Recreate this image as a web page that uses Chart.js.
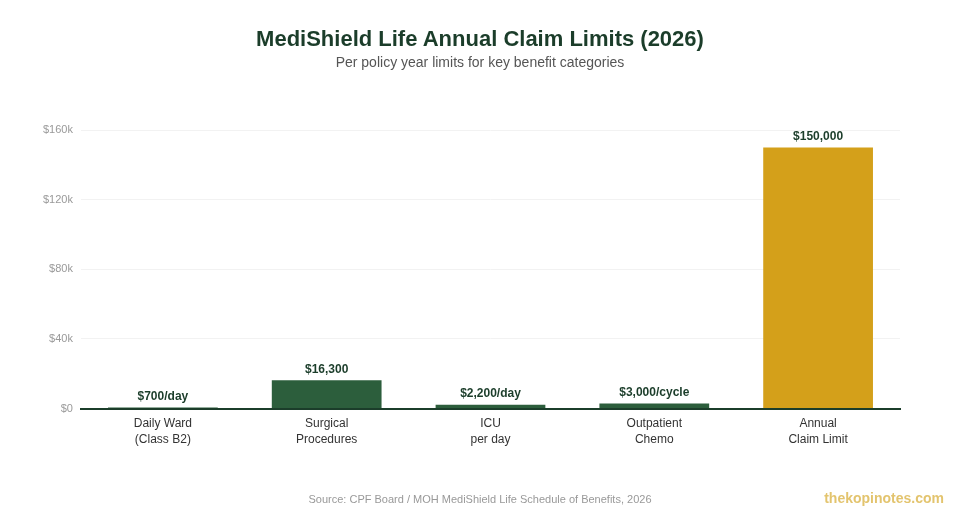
<!DOCTYPE html>
<html>
<head>
<meta charset="utf-8">
<script src="https://cdn.jsdelivr.net/npm/chart.js@4/dist/chart.umd.min.js"></script>
<style>
  html, body { margin: 0; padding: 0; background: #fff; }
  #wrap { position: relative; width: 960px; height: 520px; font-family: "Liberation Sans", Arial, sans-serif; }
  #titulo { position: absolute; left: 0; width: 960px; top: 26px; text-align: center; font-size: 22px; font-weight: bold; color: #1b3d2a; }
  #subtitulo { position: absolute; left: 0; width: 960px; top: 54px; text-align: center; font-size: 14px; color: #555; }
  #fuente { position: absolute; left: 0; width: 960px; top: 493px; text-align: center; font-size: 11px; color: #999; }
  #marca { position: absolute; right: 16px; top: 490px; font-size: 14px; font-weight: bold; color: #e3c46e; }
</style>
</head>
<body>
<div id="wrap">
  <canvas id="grafico" width="960" height="520"></canvas>
  <div id="titulo">MediShield Life Annual Claim Limits (2026)</div>
  <div id="subtitulo">Per policy year limits for key benefit categories</div>
  <div id="fuente">Source: CPF Board / MOH MediShield Life Schedule of Benefits, 2026</div>
  <div id="marca">thekopinotes.com</div>
</div>
<script>
// ─── Datos ───────────────────────────────────────
const categorias = [
  ['Daily Ward', '(Class B2)'],
  ['Surgical', 'Procedures'],
  ['ICU', 'per day'],
  ['Outpatient', 'Chemo'],
  ['Annual', 'Claim Limit']
];
const limites   = [700, 16300, 2200, 3000, 150000];
const etiquetas = ['$700/day', '$16,300', '$2,200/day', '$3,000/cycle', '$150,000'];
const ticksY    = [0, 40000, 80000, 120000, 160000];

// ─── Colores ─────────────────────────────────────
const verde      = '#2c5e3c';
const verdeOsc   = '#1b3d2a';
const dorado     = '#d4a01a';
const colores    = limites.map((v, i) => i === limites.length - 1 ? dorado : verde);

// ─── Plugin etiquetas sobre barras ───────────────
const etiquetasBarras = {
  id: 'etiquetasBarras',
  afterDatasetsDraw(chart) {
    const c = chart.ctx;
    const meta = chart.getDatasetMeta(0);
    c.save();
    c.font = 'bold 12px "Liberation Sans", Arial, sans-serif';
    c.fillStyle = verdeOsc;
    c.textAlign = 'center';
    c.textBaseline = 'bottom';
    meta.data.forEach((bar, i) => {
      c.fillText(etiquetas[i], bar.x, bar.y - 5);
    });
    c.restore();
  }
};

// ─── Gráfico ─────────────────────────────────────
const ctx = document.getElementById('grafico').getContext('2d');
new Chart(ctx, {
  type: 'bar',
  data: {
    labels: categorias,
    datasets: [{
      data: limites,
      backgroundColor: colores,
      borderWidth: 0,
      barPercentage: 0.67,
      categoryPercentage: 1
    }]
  },
  options: {
    responsive: false,
    animation: false,
    layout: { padding: { top: 130, right: 60, left: 35, bottom: 73 } },
    plugins: {
      legend: { display: false },
      tooltip: { enabled: false }
    },
    scales: {
      x: {
        grid: { display: false },
        border: { color: verdeOsc, width: 2 },
        ticks: {
          color: '#333',
          padding: -1,
          font: { family: '"Liberation Sans", Arial, sans-serif', size: 12, lineHeight: 1.35 }
        }
      },
      y: {
        min: 0,
        max: 160000,
        afterBuildTicks(axis) { axis.ticks = ticksY.map(v => ({ value: v })); },
        grid: { color: '#f2f2f2', drawTicks: false },
        border: { display: false },
        ticks: {
          color: '#999',
          padding: 8,
          font: { family: '"Liberation Sans", Arial, sans-serif', size: 11 },
          callback: v => v === 0 ? '$0' : '$' + (v / 1000) + 'k'
        }
      }
    }
  },
  plugins: [etiquetasBarras]
});
</script>
</body>
</html>
